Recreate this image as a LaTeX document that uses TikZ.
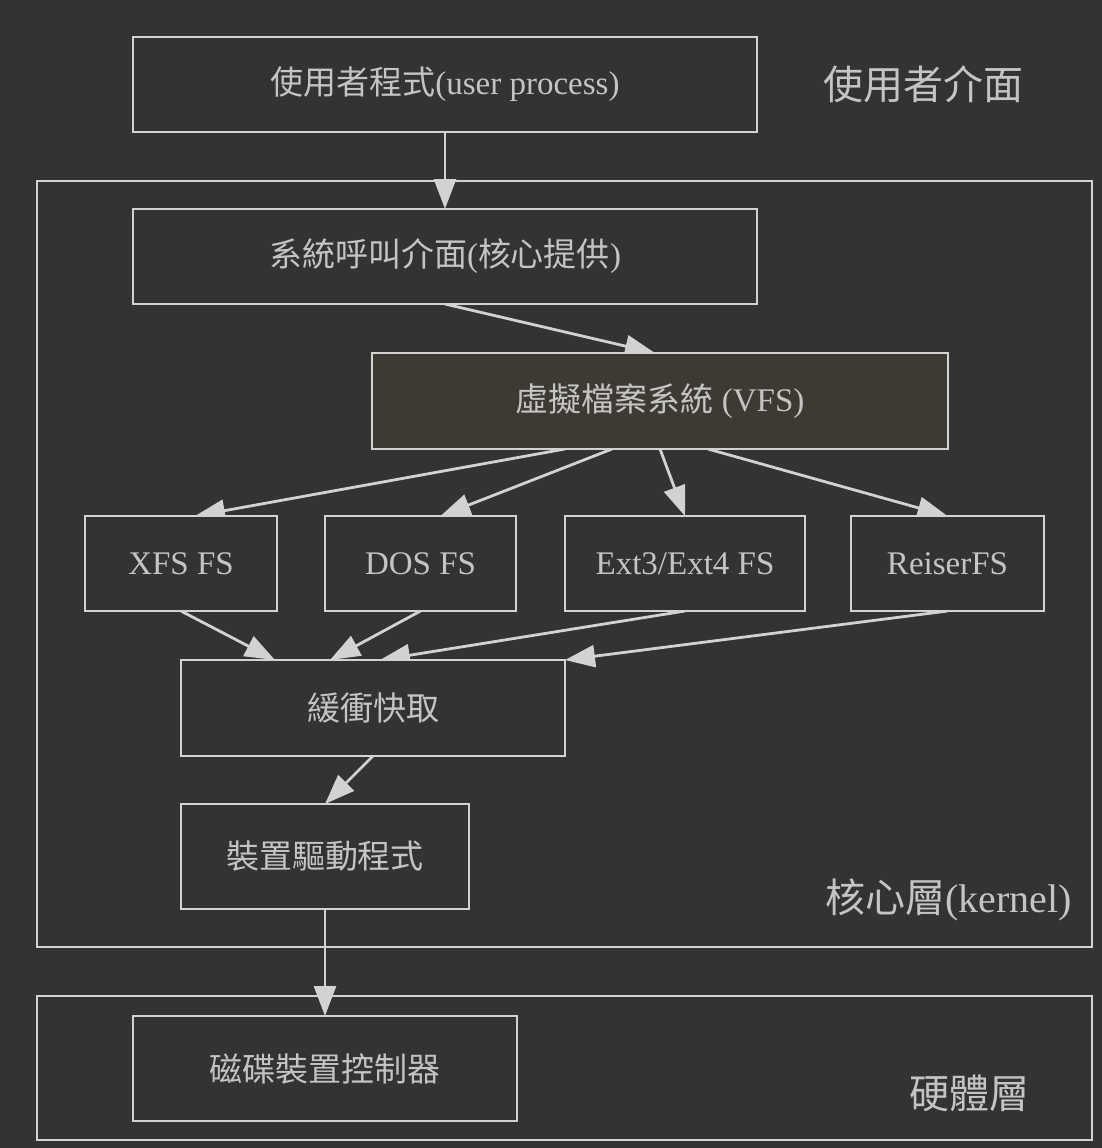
\documentclass[tikz,border=0pt]{standalone}
\usepackage{fontspec}
\setmainfont{Liberation Serif}
\newfontfamily\cjk{Noto Sans CJK TC}
\usepackage{tikz}
\usetikzlibrary{arrows.meta,backgrounds}
\definecolor{bggray}{HTML}{333333}
\definecolor{linegray}{HTML}{D2D2D2}
\definecolor{textgray}{HTML}{C4C4C4}
\definecolor{vfsfill}{HTML}{3D3A34}
\pgfdeclarelayer{framelayer}
\pgfdeclarelayer{edgelayer}
\pgfdeclarelayer{nodelayer}
\pgfsetlayers{framelayer,edgelayer,nodelayer,main}
\tikzstyle{box}=[rectangle, draw=linegray, fill=bggray, line width=1.4pt, inner sep=0pt, outer sep=0pt, text=textgray, font=\fontsize{16.5pt}{20pt}\selectfont]
\tikzstyle{vfsbox}=[box, fill=vfsfill]
\tikzstyle{layerframe}=[rectangle, draw=linegray, line width=1.4pt, inner sep=0pt, outer sep=0pt]
\tikzstyle{layerlabel}=[text=textgray, anchor=east, inner sep=0pt, font=\fontsize{20pt}{24pt}\selectfont]
\tikzstyle{arrow}=[-{Triangle[length=15pt,width=11pt]}, draw=linegray, fill=linegray, line width=1.4pt]

\begin{document}
\begin{tikzpicture}[x=0.5pt, y=-0.5pt]
            \useasboundingbox (0, 0) rectangle (1102, 1148);
            \begin{pgfonlayer}{framelayer}
                \fill [bggray] (0, 0) rectangle (1102, 1148);
                \node [style=layerframe, minimum width=527.5pt, minimum height=383pt] (kernel) at (564.5, 564) {};
                \node [style=layerframe, minimum width=527.5pt, minimum height=72pt] (hardware) at (564.5, 1068) {};
            \end{pgfonlayer}
            \begin{pgfonlayer}{nodelayer}
                \node [style=box, minimum width=312pt, minimum height=47.5pt] (user) at (445, 84.5) {{\cjk 使用者程式}(user process)};
                \node [style=layerlabel] (userlabel) at (1024, 84) {\cjk 使用者介面};

                \node [style=box, minimum width=312pt, minimum height=47.5pt] (syscall) at (445, 256.5) {{\cjk 系統呼叫介面}({\cjk 核心提供})};
                \node [style=vfsbox, minimum width=288pt, minimum height=48pt] (vfs) at (660, 401) {{\cjk 虛擬檔案系統} (VFS)};

                \node [style=box, minimum width=96pt, minimum height=47.5pt] (xfs) at (181, 563.5) {XFS FS};
                \node [style=box, minimum width=95.5pt, minimum height=47.5pt] (dos) at (420.5, 563.5) {DOS FS};
                \node [style=box, minimum width=120pt, minimum height=47.5pt] (ext) at (685, 563.5) {Ext3/Ext4 FS};
                \node [style=box, minimum width=96.5pt, minimum height=47.5pt] (reiser) at (947.5, 563.5) {ReiserFS};

                \node [style=box, minimum width=192pt, minimum height=48pt] (cache) at (373, 708) {\cjk 緩衝快取};
                \node [style=box, minimum width=144pt, minimum height=52.5pt] (driver) at (325, 856.5) {\cjk 裝置驅動程式};
                \node [style=layerlabel] (kernellabel) at (1072, 900) {{\cjk 核心層}(kernel)};

                \node [style=box, minimum width=192pt, minimum height=52.5pt] (disk) at (325, 1068.5) {\cjk 磁碟裝置控制器};
                \node [style=layerlabel] (hardwarelabel) at (1030, 1093) {\cjk 硬體層};
            \end{pgfonlayer}
            \begin{pgfonlayer}{edgelayer}
                \draw [style=arrow] (user.south) to (syscall.north);
                \draw [style=arrow] (syscall.south) to ([xshift=-2.5pt]vfs.north);

                \draw [style=arrow] ([xshift=-47.5pt]vfs.south) to ([xshift=7pt]xfs.north);
                \draw [style=arrow] ([xshift=-24pt]vfs.south) to ([xshift=10pt]dos.north);
                \draw [style=arrow] (vfs.south) to (ext.north);
                \draw [style=arrow] ([xshift=24pt]vfs.south) to (reiser.north);

                \draw [style=arrow] (xfs.south) to ([xshift=-49pt]cache.north);
                \draw [style=arrow] (dos.south) to ([xshift=-21.5pt]cache.north);
                \draw [style=arrow] (ext.south) to ([xshift=3.5pt]cache.north);
                \draw [style=arrow] (reiser.south) to (cache.north east);

                \draw [style=arrow] (cache.south) to (driver.north);
                \draw [style=arrow] (driver.south) to (disk.north);
            \end{pgfonlayer}
        \end{tikzpicture}
\end{document}
